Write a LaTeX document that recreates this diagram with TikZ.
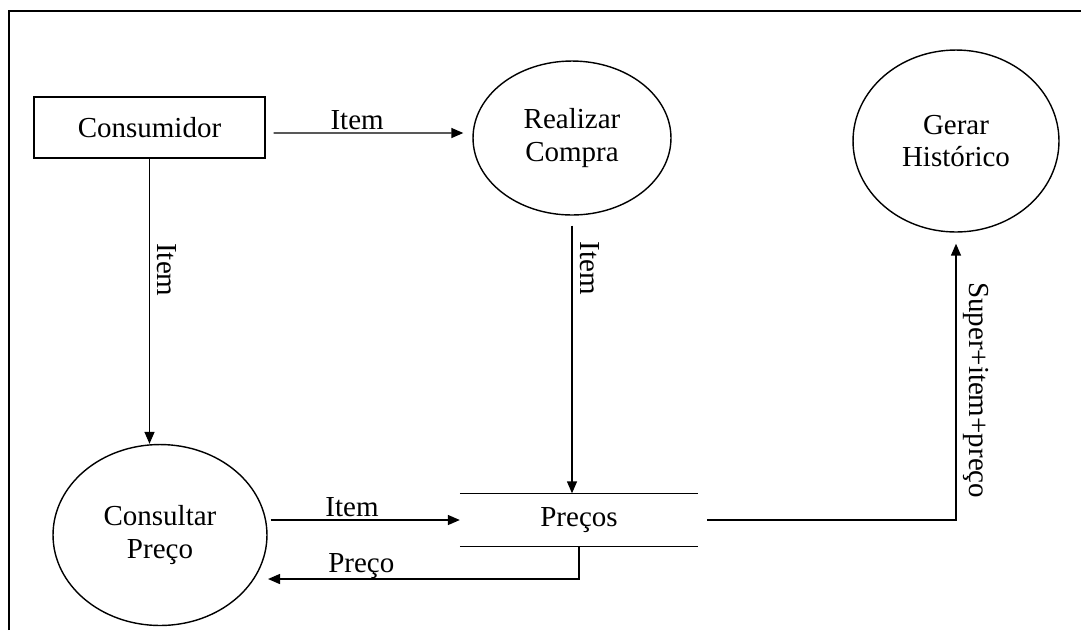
\documentclass[tikz,border=0pt]{standalone}
\usepackage{fontspec}
\setmainfont{Liberation Serif}
\usepackage{tikz}
\usetikzlibrary{shapes, arrows.meta}

\begin{document}
\begin{tikzpicture}[x=0.02cm, y=-0.02cm, line width=0.8pt,
		every node/.style={font=\fontsize{16.5}{18.7}\selectfont},
		proc/.style={draw, ellipse, align=center, inner sep=0pt},
		flow/.style={-{Triangle[length=0.24cm, width=0.2cm]}},
		vlabel/.style={rotate=-90, anchor=south, inner sep=4pt}]
				\useasboundingbox (0,0) rectangle (1081,630);
				\draw[line width=0.9pt] (9,630)--(9,11)--(1081,11);
				
				\node (cons) at (149.5,127.5)[draw, minimum width=4.62cm, minimum height=1.22cm]{Consumidor};
				\node (real) at (572,138)[proc, minimum width=3.96cm, minimum height=3.08cm]{Realizar\\Compra};
				\node (gerar) at (956,141)[proc, minimum width=4.12cm, minimum height=3.64cm]{Gerar\\Histórico};
				\node (cpreco) at (160,535)[proc, minimum width=4.28cm, minimum height=3.62cm]{Consultar\\Preço};
				\node (prec) at (579,520)[minimum width=4.74cm, minimum height=1.04cm]{Preços};
				\coordinate (pback) at (268,579);
				
				\draw (prec.north west)--(prec.north east);
				\draw (prec.south west)--(prec.south east);
				
				\draw[flow] ([xshift=0.16cm, yshift=-0.11cm]cons.east)-- node[above, pos=0.44, inner sep=1.5pt]{Item} ([xshift=-0.18cm, yshift=0.1cm]real.west);
				\draw[flow] (cons.south)-- node[vlabel, pos=0.39]{Item} (cons.south |- cpreco.north);
				\draw[flow] ([yshift=-0.2cm]real.south)-- node[vlabel, pos=0.16]{Item} (real.south |- prec.north);
				\draw[flow] ([xshift=0.06cm]cpreco.east |- prec.west)-- node[above, pos=0.43, inner sep=1.5pt]{Item} (prec.west);
				\draw[flow] (prec.south) |- node[above, pos=0.85, inner sep=0pt]{Preço} (pback);
				\draw[flow] ([xshift=0.18cm]prec.east) -| node[vlabel, pos=0.735]{Super+item+preço} ([yshift=-0.22cm]gerar.south);
			\end{tikzpicture}
\end{document}
